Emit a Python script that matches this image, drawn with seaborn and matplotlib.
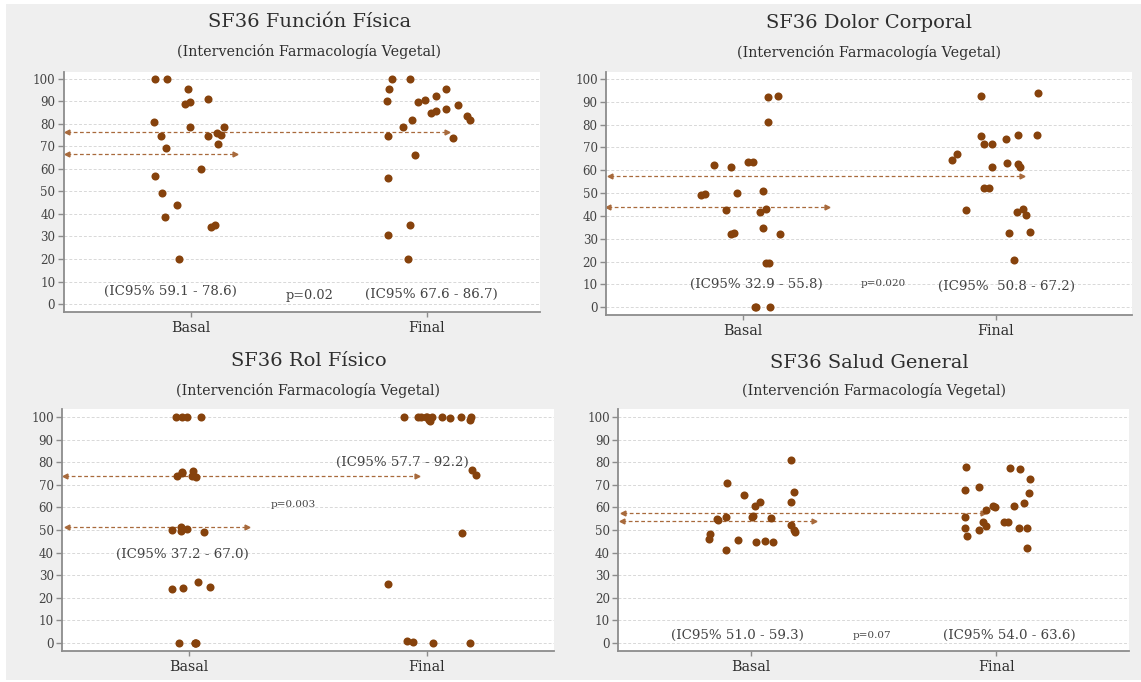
import numpy as np
import pandas as pd
import matplotlib
matplotlib.use("Agg")
import matplotlib.pyplot as plt
from matplotlib.patches import Rectangle
import seaborn as sns

sns.set_style("white")
plt.rcParams["font.family"] = ["DejaVu Serif"]

groups = ["Basal", "Final"]
subtitle = "(Intervención Farmacología Vegetal)"

# --- SF36 Función Física ---
ff_title = "SF36 Función Física"
ff_basal = [100, 100, 95.7, 91.0, 89.0, 89.8, 80.9, 78.7, 78.5, 75.9, 74.8, 74.7,
            75.3, 71.3, 69.3, 60.0, 56.9, 49.2, 43.9, 38.5, 34.4, 35.1, 20.0]
ff_final = [100, 100, 95.7, 95.4, 92.3, 90.1, 90.8, 89.6, 88.6, 86.8, 85.6, 85.0,
            83.7, 81.6, 81.8, 78.5, 73.8, 74.8, 66.2, 55.9, 35.0, 30.5, 20.0]
ff_ref = [66.7, 76.6]
ff_ci = ["(IC95% 59.1 - 78.6)", "(IC95% 67.6 - 86.7)"]
ff_p = "p=0.02"

# --- SF36 Dolor Corporal ---
dc_title = "SF36 Dolor Corporal"
dc_basal = [92.3, 92.7, 81.3, 63.5, 63.5, 61.6, 62.3, 50.2, 50.8, 49.5, 49.2, 42.9,
            42.5, 41.6, 34.7, 32.0, 32.7, 32.0, 19.3, 19.4, 0, 0, 0]
dc_final = [93.9, 92.7, 75.3, 75.5, 75.0, 73.7, 71.7, 71.4, 67.3, 64.4, 61.3, 61.3,
            63.2, 62.6, 52.1, 52.4, 42.6, 42.9, 40.6, 41.6, 33.1, 32.7, 20.7]
dc_ref = [43.8, 57.5]
dc_ci = ["(IC95% 32.9 - 55.8)", "(IC95%  50.8 - 67.2)"]
dc_p = "p=0.020"

# --- SF36 Rol Físico ---
rf_title = "SF36 Rol Físico"
rf_basal = [100, 100, 100, 100, 75.3, 74.0, 73.7, 76.0, 75.9, 74.0,
            49.1, 51.2, 50.6, 49.9, 49.6, 23.7, 24.4, 26.8, 24.9, 0, 0, 0, 0]
rf_final = [100, 98.5, 98.7, 100, 100, 98.7, 100, 99.7, 100, 100, 100, 100, 100,
            74.6, 76.5, 48.8, 26.0, 0, 0.4, 0, 0.7]
rf_ref = [51.2, 74.0]
rf_ci = ["(IC95% 37.2 - 67.0)", "(IC95% 57.7 - 92.2)"]
rf_p = "p=0.003"

# --- SF36 Salud General ---
sg_title = "SF36 Salud General"
sg_basal = [81.1, 70.7, 65.7, 66.7, 62.4, 62.6, 60.5, 55.9, 55.5, 56.4, 55.6, 54.7,
            54.4, 52.1, 49.9, 49.0, 45.4, 46.2, 44.5, 44.8, 45.3, 48.1, 41.0]
sg_final = [77.4, 78.1, 77.2, 72.6, 69.2, 67.9, 66.5, 60.7, 60.7, 60.1, 62.1, 58.9,
            55.6, 53.6, 53.6, 53.7, 50.9, 51.8, 49.9, 51.1, 51.1, 47.3, 41.9]
sg_ref = [54.2, 57.7]
sg_ci = ["(IC95% 51.0 - 59.3)", "(IC95% 54.0 - 63.6)"]
sg_p = "p=0.07"

W, H = 1141, 682
DOT = "#86420c"
LINE = "#a86a3c"
TXT = "#2e2e2e"
TICK = "#444444"
SPINE = "#8c8c8c"


def px_rect(left, top, right, bottom):
    return [left / W, 1 - bottom / H, (right - left) / W, (bottom - top) / H]


panels = [
    dict(title=ff_title, basal=ff_basal, final=ff_final, ref=ff_ref, ci=ff_ci, p=ff_p,
         rect=px_rect(63.5, 72, 540, 311.7), xlim=(-0.541, 1.481), ylim=(-3.42, 103.1),
         jit=(0.16, 0.19),
         seg_b=(-0.526, 0.187), seg_f=(-0.526, 1.085),
         ci_pos=[(-0.089, 5.5), (1.021, 4.4)], p_pos=(0.505, 4.0), p_size=9.3,
         title_xy=(309.7, 22.3), sub_xy=(309.2, 51.7)),
    dict(title=dc_title, basal=dc_basal, final=dc_final, ref=dc_ref, ci=dc_ci, p=dc_p,
         rect=px_rect(606, 71.7, 1131.7, 315), xlim=(-0.54, 1.536), ylim=(-3.37, 103.2),
         jit=(0.17, 0.18),
         seg_b=(-0.532, 0.332), seg_f=(-0.524, 1.104),
         ci_pos=[(0.055, 9.8), (1.042, 9.3)], p_pos=(0.554, 10.5), p_size=7.5,
         title_xy=(869, 22.7), sub_xy=(869, 52.3)),
    dict(title=rf_title, basal=rf_basal, final=rf_final, ref=rf_ref, ci=rf_ci, p=rf_p,
         rect=px_rect(62, 409.3, 554.3, 650.7), xlim=(-0.536, 1.537), ylim=(-3.55, 103.55),
         jit=(0.09, 0.22),
         seg_b=(-0.517, 0.242), seg_f=(-0.524, 0.958),
         ci_pos=[(-0.029, 39.2), (0.897, 80.0)], p_pos=(0.438, 61.5), p_size=7.5,
         title_xy=(308.8, 360.7), sub_xy=(308.3, 390)),
    dict(title=sg_title, basal=sg_basal, final=sg_final, ref=sg_ref, ci=sg_ci, p=sg_p,
         rect=px_rect(618.3, 409.3, 1129, 650.7), xlim=(-0.5435, 1.5435), ylim=(-3.55, 103.55),
         jit=(0.19, 0.14),
         seg_b=(-0.53, 0.256), seg_f=(-0.526, 0.947),
         ci_pos=[(-0.056, 3.4), (1.053, 3.4)], p_pos=(0.494, 3.0), p_size=7.5,
         title_xy=(869.2, 363.3), sub_xy=(874.5, 390)),
]

fig = plt.figure(figsize=(W / 100, H / 100), dpi=100, facecolor="white")
fig.patches.append(Rectangle((6 / W, 2 / H), 1 - 6 / W, 1 - 6 / H,
                             transform=fig.transFigure, facecolor="#efefef",
                             edgecolor="none", zorder=-10))

np.random.seed(11)

for spec in panels:
    ax = fig.add_axes(spec["rect"])
    ax.set_facecolor("white")

    ax.set_yticks(np.arange(0, 101, 10))
    ax.yaxis.grid(True, color="#d8d8d8", linestyle=(0, (3, 2)), linewidth=0.7)
    ax.set_axisbelow(True)

    # jittered points, one strip per group
    for grp, vals, jw in (("Basal", spec["basal"], spec["jit"][0]),
                          ("Final", spec["final"], spec["jit"][1])):
        df = pd.DataFrame({"grupo": [grp] * len(vals), "valor": vals})
        sns.stripplot(data=df, x="grupo", y="valor", order=groups, jitter=jw,
                      size=5.8, color=DOT, linewidth=0, ax=ax, zorder=3)

    # reference lines with arrow ends
    for (x0, x1), yv in ((spec["seg_b"], spec["ref"][0]), (spec["seg_f"], spec["ref"][1])):
        ax.plot([x0, x1], [yv, yv], color=LINE, linewidth=0.9,
                linestyle=(0, (3, 2)), zorder=2)
        ax.plot([x0], [yv], marker="<", markersize=3.5, color=LINE, linewidth=0, zorder=2)
        ax.plot([x1], [yv], marker=">", markersize=3.5, color=LINE, linewidth=0, zorder=2)

    for (tx, ty), label in zip(spec["ci_pos"], spec["ci"]):
        ax.text(tx, ty, label, ha="center", va="center", fontsize=9.6, color=TICK)
    ax.text(spec["p_pos"][0], spec["p_pos"][1], spec["p"], ha="center", va="center",
            fontsize=spec["p_size"], color=TICK)

    ax.set_xlim(*spec["xlim"])
    ax.set_ylim(*spec["ylim"])
    ax.set_xlabel("")
    ax.set_ylabel("")
    ax.set_xticks([0, 1])
    ax.set_xticklabels(groups)

    for side in ("top", "right"):
        ax.spines[side].set_visible(False)
    for side in ("left", "bottom"):
        ax.spines[side].set_color(SPINE)
        ax.spines[side].set_linewidth(1.3)
    ax.tick_params(axis="y", direction="out", length=4.5, width=1, color=SPINE,
                   labelsize=8.6, labelcolor=TICK, pad=1.5, left=True)
    ax.tick_params(axis="x", direction="out", length=3.5, width=1, color=SPINE,
                   labelsize=10.3, labelcolor=TXT, pad=3, bottom=True)

    fig.text(spec["title_xy"][0] / W, 1 - spec["title_xy"][1] / H, spec["title"],
             ha="center", va="center", fontsize=14, color=TXT)
    fig.text(spec["sub_xy"][0] / W, 1 - spec["sub_xy"][1] / H, subtitle,
             ha="center", va="center", fontsize=10.3, color=TXT)

fig.savefig("out.png", dpi=100, facecolor=fig.get_facecolor())
